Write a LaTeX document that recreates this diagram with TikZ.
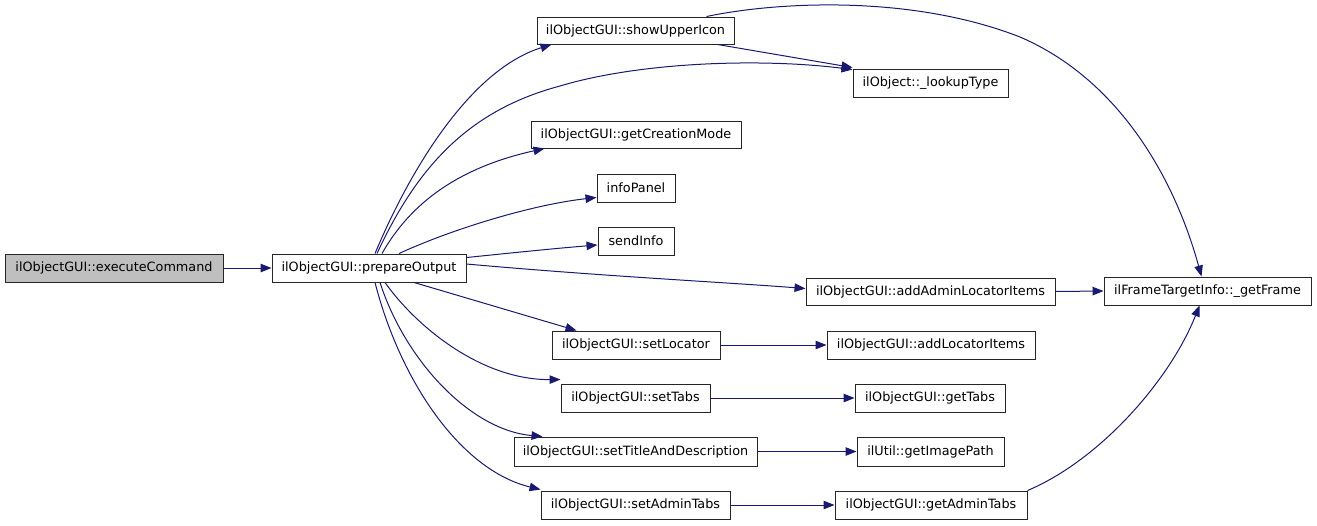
\documentclass[tikz,border=0pt]{standalone}
\usepackage{fontspec}
\setmainfont{DejaVu Sans}
\usetikzlibrary{arrows.meta}
\definecolor{edgeblue}{HTML}{191970}
\definecolor{hlgray}{HTML}{BFBFBF}
\begin{document}
\begin{tikzpicture}[x=1pt,y=-1pt,
  fn/.style={draw=black!85,line width=0.95pt,fill=white,rectangle,inner sep=0pt,
    minimum height=28pt,font=\fontsize{12.8}{15}\selectfont,anchor=center},
  edge/.style={draw=edgeblue,line width=1pt,-{Triangle[length=11pt,width=8.5pt]}}]
\useasboundingbox (0,0) rectangle (1317,525);
% nodes
\node[fn,fill=hlgray,minimum width=218pt] (exec) at (114,268) {ilObjectGUI::executeCommand};
\node[fn,minimum width=194pt] (prep) at (369,268) {ilObjectGUI::prepareOutput};
\node[fn,minimum width=197pt,minimum height=27pt] (show) at (635.5,30.5) {ilObjectGUI::showUpperIcon};
\node[fn,minimum width=155pt] (lookup) at (930.5,83) {ilObject::\_lookupType};
\node[fn,minimum width=210pt,minimum height=27pt] (creation) at (636,134.5) {ilObjectGUI::getCreationMode};
\node[fn,minimum width=78pt] (info) at (636,188) {infoPanel};
\node[fn,minimum width=76pt] (send) at (636,241) {sendInfo};
\node[fn,minimum width=249pt,minimum height=27pt] (addadmin) at (930.5,291.5) {ilObjectGUI::addAdminLocatorItems};
\node[fn,minimum width=207pt] (frame) at (1207.5,291) {ilFrameTargetInfo::\_getFrame};
\node[fn,minimum width=168pt] (setloc) at (636,345) {ilObjectGUI::setLocator};
\node[fn,minimum width=208pt] (addloc) at (931,345) {ilObjectGUI::addLocatorItems};
\node[fn,minimum width=149pt] (settabs) at (635.5,398) {ilObjectGUI::setTabs};
\node[fn,minimum width=150pt] (gettabs) at (930,398) {ilObjectGUI::getTabs};
\node[fn,minimum width=243pt,minimum height=29pt] (settitle) at (635.5,451.5) {ilObjectGUI::setTitleAndDescription};
\node[fn,minimum width=147pt,minimum height=29pt] (imgpath) at (930.5,451.5) {ilUtil::getImagePath};
\node[fn,minimum width=189pt] (setadmin) at (635.5,505) {ilObjectGUI::setAdminTabs};
\node[fn,minimum width=192pt] (getadmin) at (931,505) {ilObjectGUI::getAdminTabs};
% edges
\draw[edge] (exec.east) -- (prep.west);
\draw[edge] ([xshift=6pt]prep.north) .. controls (410,170) and (470,70) .. ([xshift=15pt]show.south west);
\draw[edge] ([xshift=8pt]prep.north) .. controls (418,165) and (470,110) .. (560,86) .. controls (640,62) and (760,58) .. ([yshift=-1pt]lookup.north west);
\draw[edge] ([xshift=13pt]prep.north) .. controls (415,195) and (470,165) .. ([xshift=14pt]creation.south west);
\draw[edge] ([xshift=30pt]prep.north) .. controls (450,230) and (530,205) .. ([yshift=5pt]info.south west);
\draw[edge] ([yshift=-4pt]prep.north east) .. controls (520,252) and (560,248) .. ([yshift=-4pt]send.west);
\draw[edge] ([yshift=4pt]prep.east) .. controls (600,276) and (720,282) .. ([yshift=3pt]addadmin.west);
\draw[edge] ([xshift=45pt]prep.south) -- ([xshift=25pt]setloc.north west);
\draw[edge] ([xshift=16pt]prep.south) .. controls (415,325) and (480,380) .. ([yshift=4pt]settabs.north west);
\draw[edge] ([xshift=11pt]prep.south) .. controls (405,360) and (470,430) .. ([xshift=29pt]settitle.north west);
\draw[edge] ([xshift=6pt]prep.south) .. controls (400,380) and (460,470) .. ([yshift=1pt]setadmin.north west);
\draw[edge] ([xshift=170pt]show.north west) .. controls (775,2) and (910,-6) .. (1020,37) .. controls (1120,80) and (1175,180) .. ([xshift=-6pt]frame.north);
\draw[edge] ([xshift=-17pt]show.south east) -- ([yshift=1pt]lookup.north west);
\draw[edge] (addadmin.east) -- (frame.west);
\draw[edge] (getadmin.north east) .. controls (1100,460) and (1170,380) .. ([xshift=-8pt]frame.south);
\draw[edge] (setloc.east) -- (addloc.west);
\draw[edge] (settabs.east) -- (gettabs.west);
\draw[edge] (settitle.east) -- (imgpath.west);
\draw[edge] (setadmin.east) -- (getadmin.west);
\end{tikzpicture}
\end{document}
